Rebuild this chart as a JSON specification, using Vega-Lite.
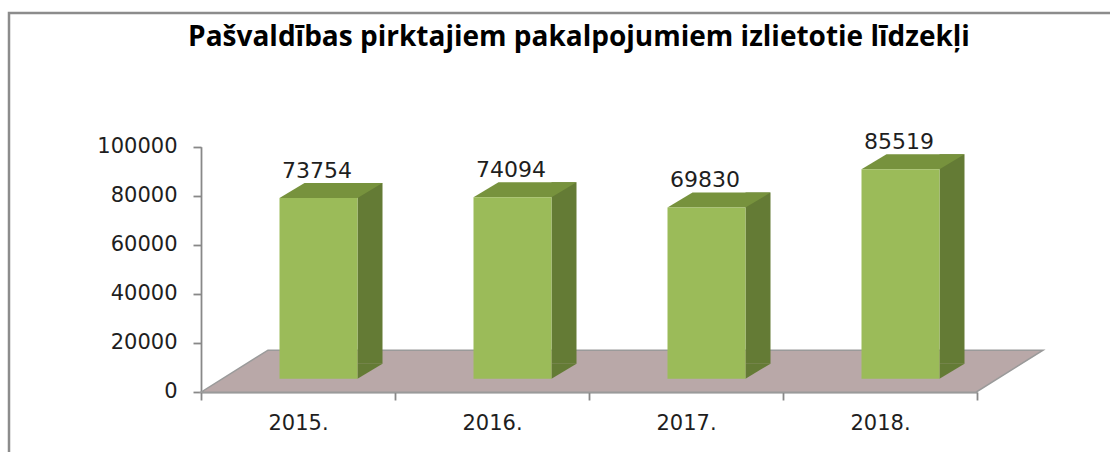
{
  "$schema": "https://vega.github.io/schema/vega-lite/v6.json",
  "autosize": {"type": "none"},
  "padding": {"left": 9, "top": 13, "right": 0, "bottom": 0},
  "width": 1140,
  "height": 450,
  "background": "white",
  "title": {
    "text": "Pašvaldības pirktajiem pakalpojumiem izlietotie līdzekļi",
    "font": "Open Sans",
    "fontSize": 28,
    "fontWeight": "bold",
    "color": "#000000",
    "anchor": "middle",
    "frame": "group",
    "baseline": "alphabetic",
    "offset": -61
  },
  "config": {
    "view": {"stroke": "#8c8c8c", "strokeWidth": 2.5},
    "axis": {
      "grid": false,
      "title": null,
      "domainColor": "#888888",
      "domainWidth": 1.8,
      "tickColor": "#888888",
      "tickWidth": 1.8,
      "tickSize": 8,
      "labelFont": "DejaVu Sans",
      "labelFontSize": 21,
      "labelColor": "#1e1e1e"
    }
  },
  "data": {
    "values": [
      {"year": "2015.", "value": 73754},
      {"year": "2016.", "value": 74094},
      {"year": "2017.", "value": 69830},
      {"year": "2018.", "value": 85519}
    ]
  },
  "layer": [
    {
      "data": {"values": [{"part": "floor"}]},
      "mark": {
        "type": "point",
        "shape": "M -1 0.0499 L 0.8409 0.0499 L 1 -0.0499 L -0.8409 -0.0499 Z",
        "size": 708964,
        "filled": true,
        "fill": "#b9a8a8",
        "stroke": "#9a9a9a",
        "strokeWidth": 1.5,
        "opacity": 1,
        "xOffset": 33,
        "yOffset": -20.5
      },
      "encoding": {
        "x": {
          "datum": "2016.",
          "type": "nominal",
          "bandPosition": 1,
          "scale": {"domain": ["2015.", "2016.", "2017.", "2018."], "range": [192, 968], "paddingInner": 0, "paddingOuter": 0},
          "axis": {"orient": "bottom", "offset": -71, "labelAngle": 0, "tickBand": "extent", "labelPadding": 12}
        },
        "y": {
          "datum": 0,
          "type": "quantitative",
          "scale": {"domain": [0, 100000], "range": [378.7, 133.7], "nice": false, "zero": true},
          "axis": {"orient": "left", "offset": -192, "values": [0, 20000, 40000, 60000, 80000, 100000], "format": "d", "labelPadding": 16}
        }
      }
    },
    {
      "mark": {"type": "bar", "width": 25, "xOffset": 72, "yOffset": -28, "y2Offset": -28, "color": "#647b35"},
      "encoding": {
        "x": {"field": "year", "type": "nominal"},
        "y": {"field": "value", "type": "quantitative"},
        "y2": {"datum": 0}
      }
    },
    {
      "mark": {
        "type": "point",
        "shape": "M -1 -0.6 L -1 0.6 L 1 -0.6 Z",
        "size": 625,
        "filled": true,
        "fill": "#647b35",
        "strokeWidth": 0,
        "opacity": 1,
        "xOffset": 72,
        "yOffset": -20.5
      },
      "encoding": {
        "x": {"field": "year", "type": "nominal"},
        "y": {"datum": 0, "type": "quantitative"}
      }
    },
    {
      "mark": {
        "type": "point",
        "shape": "M -1 0.1456 L 0.5146 0.1456 L 1 -0.1456 L -0.5146 -0.1456 Z",
        "size": 10609,
        "filled": true,
        "fill": "#77923d",
        "strokeWidth": 0,
        "opacity": 1,
        "xOffset": 33,
        "yOffset": -20.5
      },
      "encoding": {
        "x": {"field": "year", "type": "nominal"},
        "y": {"field": "value", "type": "quantitative"}
      }
    },
    {
      "mark": {"type": "bar", "width": 78, "xOffset": 20.5, "yOffset": -13, "y2Offset": -13, "color": "#9bbb59"},
      "encoding": {
        "x": {"field": "year", "type": "nominal"},
        "y": {"field": "value", "type": "quantitative"},
        "y2": {"datum": 0}
      }
    },
    {
      "mark": {"type": "text", "font": "DejaVu Sans", "fontSize": 22, "color": "#1e1e1e", "baseline": "alphabetic", "align": "center", "xOffset": 19, "yOffset": -33.5},
      "encoding": {
        "x": {"field": "year", "type": "nominal"},
        "y": {"field": "value", "type": "quantitative"},
        "text": {"field": "value", "type": "quantitative", "format": "d"}
      }
    }
  ]
}
